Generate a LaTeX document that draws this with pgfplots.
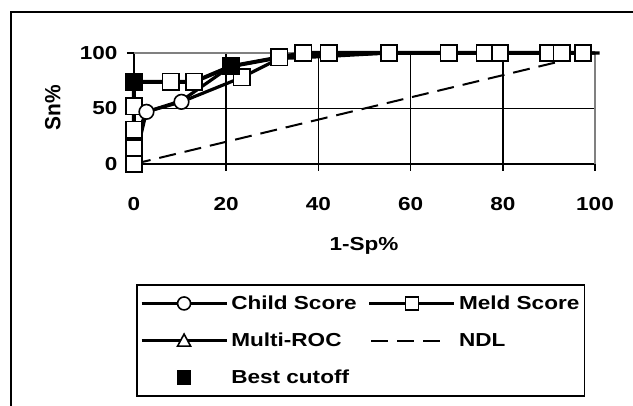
\documentclass[border=0pt]{standalone}
\usepackage{pgfplots}
\pgfplotsset{compat=1.18}
\usepackage{fontspec}
\setmainfont{Liberation Sans}[FakeStretch=1.2]
\newfontfamily\yfont{Liberation Sans}[FakeStretch=0.95]
\newcommand\cf{\fontsize{18.8}{22}\selectfont\bfseries}
\newcommand\yf{\yfont\fontsize{22}{26}\selectfont\bfseries}
\definecolor{bordergray}{RGB}{128,128,128}
\begin{document}
\begin{tikzpicture}
\useasboundingbox (0,0) rectangle (633pt,406pt);
\fill[white] (0,0) rectangle (633pt,406pt);
\draw[line width=1.8pt] (11pt,-20pt) -- (11pt,394pt) -- (660pt,394pt);
\begin{axis}[
  at={(134pt,242pt)}, anchor=south west,
  scale only axis, width=461pt, height=111pt,
  xmin=0, xmax=100, ymin=0, ymax=100,
  xtick={0,20,40,60,80,100}, ytick={0,50,100},
  axis lines=left, axis line style={-, line width=1.7pt, black},
  grid=major, major grid style={black, line width=1.6pt},
  tick align=outside, major tick length=7pt,
  tick style={black, line width=1.6pt},
  /pgf/number format/assume math mode=true,
  ticklabel style={font=\cf},
  xticklabel style={anchor=north, yshift=-23pt},
  yticklabel style={anchor=east, xshift=-6pt},
  clip=false,
  legend columns=2,
  legend style={at={(axis description cs:0.0043,-1.081)}, anchor=north west,
    draw=black, line width=1.8pt, font=\cf, row sep=18pt,
    inner xsep=3pt, inner ysep=9pt,
    /tikz/every even column/.append style={column sep=9pt},
    /tikz/every odd column/.append style={column sep=1pt},
    cells={anchor=west}},
]
% gray plot-area border (top and right)
\addplot[bordergray, line width=1.6pt, forget plot] coordinates {(0,100) (100,100) (100,0)};

% Child Score line
\addplot[black, line width=3.2pt, mark=none,
  legend image code/.code={\draw[black,line width=3.4pt] (0pt,0pt)--(85pt,0pt);
    \draw[black,line width=1.6pt,fill=white] (42.5pt,0pt) circle (6.5pt);}]
  coordinates {(0,0) (0.5,18) (1.5,35) (2.7,47) (10.3,56) (23.4,78) (31.5,95) (42.2,97) (55.3,100) (100,100)};
\addlegendentry{Child Score}

% Meld Score
\addplot[black, line width=4pt, mark=square*, mark size=8.2pt,
  mark options={fill=white, line width=1.6pt},
  legend image code/.code={\draw[black,line width=3.4pt] (0pt,0pt)--(85pt,0pt);
    \draw[black,line width=1.6pt,fill=white] (36pt,-6.5pt) rectangle (49pt,6.5pt);}]
  coordinates {(0,2) (0,6) (0,10) (0,14) (0,31) (0,52) (0,74) (8,74) (13,74) (21,88) (31.5,96) (36.7,100) (42.2,100) (55.3,100) (68.3,100) (76.1,100) (79.4,100) (89.8,100) (92.8,100) (97.4,100)};
\addlegendentry{Meld Score\hspace{8pt}}

% Multi-ROC
\addplot[black, line width=3.2pt, mark=none,
  legend image code/.code={\draw[black,line width=3.4pt] (0pt,0pt)--(85pt,0pt);
    \draw[black,line width=1.6pt,fill=white] (42.5pt,6.5pt)--(36pt,-5.5pt)--(49pt,-5.5pt)--cycle;}]
  coordinates {(0,0) (2.7,47) (10.3,57) (21,88) (31.5,96) (42.2,98) (55.3,100) (101,100)};
\addlegendentry{Multi-ROC}

% NDL
\addplot[black, line width=2pt, dash pattern=on 17pt off 9pt, mark=none,
  legend image code/.code={\draw[black,line width=2pt,dash pattern=on 17pt off 9pt] (2pt,0pt)--(75pt,0pt); \path[draw=none] (0pt,0pt)--(85pt,0pt);}]
  coordinates {(0,0) (93,93)};
\addlegendentry{NDL}

% circles of Child Score
\addplot[only marks, mark=*, mark size=7.3pt, mark options={fill=white, draw=black, line width=1.6pt}, forget plot]
  coordinates {(2.7,47) (10.3,56)};
% extra squares
\addplot[only marks, mark=square*, mark size=8.2pt, mark options={fill=white, draw=black, line width=1.6pt}, forget plot]
  coordinates {(0,0) (23.4,78)};

% Best cutoff
\addplot[only marks, mark=square*, mark size=8.2pt, mark options={fill=black, draw=black},
  legend image code/.code={\fill[black] (36pt,-6.5pt) rectangle (49pt,6.5pt); \path[draw=none] (0pt,0pt)--(85pt,0pt);}]
  coordinates {(0,74) (21,88)};
\addlegendentry{Best cutoff}

\node[font=\cf, anchor=base] at (axis description cs:0.499,-0.775) {1-Sp\%};
\node[font=\yf, anchor=center, rotate=90] at (axis description cs:-0.176,0.505) {Sn\%};
\end{axis}
\end{tikzpicture}
\end{document}
